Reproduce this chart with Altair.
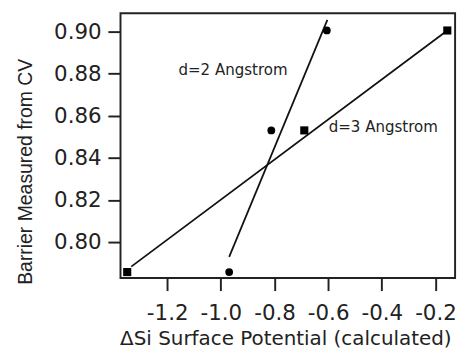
import altair as alt
import pandas as pd

# data
sq_x = [-1.349, -0.689, -0.156]
sq_y = [0.7858, 0.853, 0.9004]
ci_x = [-0.969, -0.812, -0.605]
ci_y = [0.7858, 0.853, 0.9004]
line2_x = [-0.969, -0.603]
line2_y = [0.793, 0.9054]
line3_x = [-1.334, -0.156]
line3_y = [0.7884, 0.9004]
labels = ["d=2 Angstrom", "d=3 Angstrom"]
label_x = [-1.158, -0.598]
label_y = [0.8815, 0.8546]
x_ticks = [-1.2, -1.0, -0.8, -0.6, -0.4, -0.2]
y_ticks = [0.80, 0.82, 0.84, 0.86, 0.88, 0.90]

x_dom = [-1.374, -0.127]
y_dom = [0.783, 0.9086]

sq = pd.DataFrame({"x": sq_x, "y": sq_y})
ci = pd.DataFrame({"x": ci_x, "y": ci_y})
lines = pd.DataFrame({
    "x": line2_x + line3_x,
    "y": line2_y + line3_y,
    "s": ["d2"] * len(line2_x) + ["d3"] * len(line3_x),
})
txt = pd.DataFrame({"x": label_x, "y": label_y, "t": labels})

xs = alt.Scale(domain=x_dom, nice=False, zero=False)
ys = alt.Scale(domain=y_dom, nice=False, zero=False)

xax = alt.Axis(values=x_ticks, title="ΔSi Surface Potential (calculated)",
               labelExpr="replace(format(datum.value, '.1f'), '−', '-')",
               labelPadding=13, labelFontSize=22,
               titleFontSize=20.5, titleFont="DejaVu Sans",
               titleX=170, titleY=63, titleBaseline="middle")
yax = alt.Axis(values=y_ticks, title="Barrier Measured from CV",
               labelExpr="format(datum.value, '.2f')",
               labelPadding=7, labelFontSize=22,
               titleFontSize=20, titleFont="Liberation Sans",
               titleX=-98, titleY=163, titleBaseline="middle", titleAngle=-90)

X = alt.X("x:Q", scale=xs, axis=xax)
Y = alt.Y("y:Q", scale=ys, axis=yax)

line_layer = alt.Chart(lines).mark_line(color="#111", strokeWidth=1.8).encode(
    x=X, y=Y, detail="s:N")
sq_layer = alt.Chart(sq).mark_square(color="black", opacity=1, size=70).encode(
    x=X, y=Y)
ci_layer = alt.Chart(ci).mark_circle(color="black", opacity=1, size=64).encode(
    x=X, y=Y)
txt_layer = alt.Chart(txt).mark_text(align="left", baseline="middle", fontSize=15.5,
                                     font="DejaVu Sans", color="#222").encode(
    x=X, y=Y, text="t:N")

chart = alt.layer(line_layer, sq_layer, ci_layer, txt_layer).properties(
    width=345, height=273,
    autosize=alt.AutoSizeParams(type="none"),
    padding={"left": 116, "top": 0, "right": 3, "bottom": 72},
).configure_view(stroke="#222", strokeWidth=2).configure_axis(
    labelFont="DejaVu Sans", labelFontSize=22, labelColor="#222",
    titleFontWeight="normal", titleColor="#222",
    tickSize=13, tickWidth=2, tickColor="#222", domain=False, grid=False,
)

chart.save("out.html", embed_options={"renderer": "svg", "actions": False})
